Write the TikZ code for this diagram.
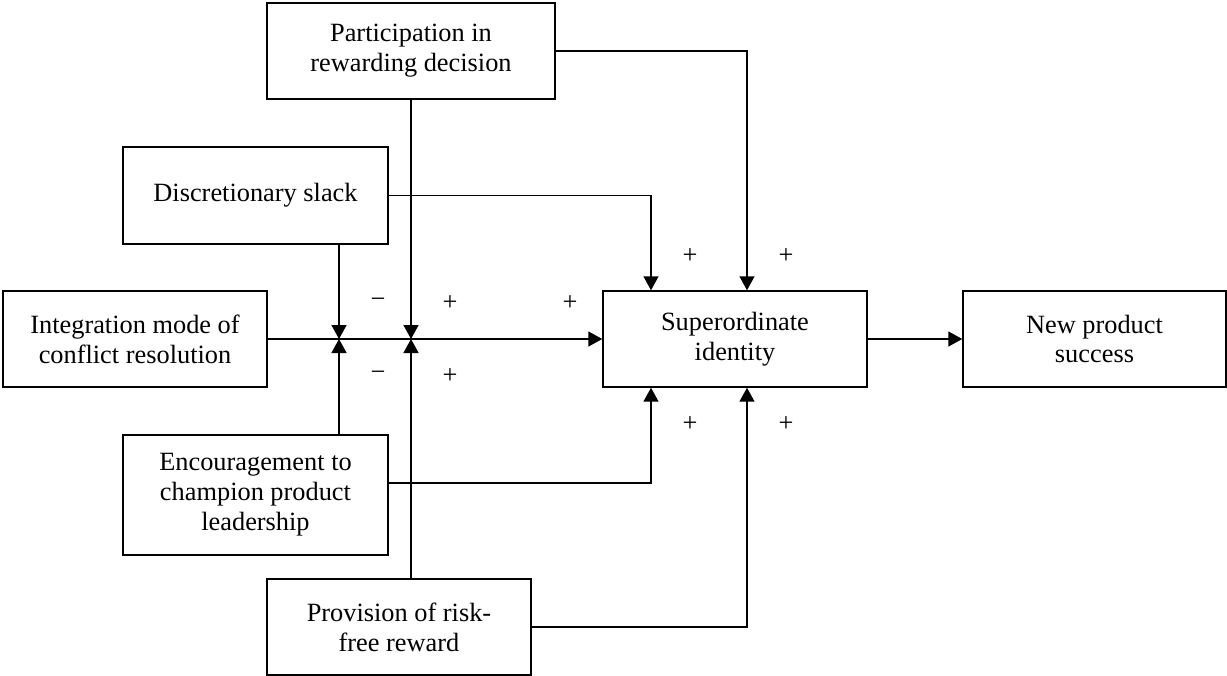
\documentclass[tikz,border=0pt]{standalone}
\usepackage{fontspec}
\setmainfont{Liberation Serif}
\usetikzlibrary{arrows.meta,positioning,calc}

\tikzset{
  box/.style={draw, line width=0.85pt, align=center, inner sep=2pt, font=\fontsize{15}{17}\selectfont},
  arr/.style={line width=0.85pt, -{Triangle[length=0.28cm,width=0.3cm]}},
  sign/.style={font=\fontsize{15}{17}\selectfont}
}

\begin{document}
\begin{tikzpicture}[x=0.02cm,y=-0.02cm]
\useasboundingbox (0,0) rectangle (1227,676);
%Kästen
\node[box, minimum width=5.76cm, minimum height=1.92cm] (part) at (411,51) {Participation in\\rewarding decision};
\node[box, minimum width=5.3cm, minimum height=1.94cm] (slack) at (255.5,195.5) {Discretionary slack};
\node[box, minimum width=5.28cm, minimum height=1.92cm] (integ) at (135,339) {Integration mode of\\conflict resolution};
\node[box, minimum width=5.28cm, minimum height=1.92cm] (super) at (735,339) {Superordinate\\identity};
\node[box, minimum width=5.26cm, minimum height=1.92cm] (nps) at (1094.5,339) {New product\\success};
\node[box, minimum width=5.3cm, minimum height=2.4cm] (enc) at (255.5,495) {Encouragement to\\champion product\\leadership};
\node[box, minimum width=5.28cm, minimum height=1.92cm] (prov) at (399,627) {Provision of risk-\\free reward};

%Hilfspunkte
\coordinate (j1) at (339,339);
\coordinate (j2) at (411,339);
\coordinate (c1) at (651,0);
\coordinate (c2) at (747,0);

%Verbindungen
\draw[arr] (integ) -- (super);
\draw[arr] (super) -- (nps);
\draw[arr] (slack.south -| j1) -- (j1);
\draw[arr] (part.south -| j2) -- (j2);
\draw[arr] (enc.north -| j1) -- (j1);
\draw[arr] (prov.north -| j2) -- (j2);
\draw[arr] (slack.east) -| (c1 |- super.north);
\draw[arr] (part.east) -| (c2 |- super.north);
\draw[arr] ([yshift=0.24cm]enc.east) -| (c1 |- super.south);
\draw[arr] (prov.east) -| (c2 |- super.south);

%Vorzeichen
\node[sign] (s1) at (378,303) {−};
\node[sign] (s2) at (450,303) {+};
\node[sign] (s3) at (570,303) {+};
\node[sign] (s4) at (378,376) {−};
\node[sign] (s5) at (450,376) {+};
\node[sign] (s6) at (690,256) {+};
\node[sign] (s7) at (786,256) {+};
\node[sign] (s8) at (690,424) {+};
\node[sign] (s9) at (786,424) {+};
\end{tikzpicture}
\end{document}
